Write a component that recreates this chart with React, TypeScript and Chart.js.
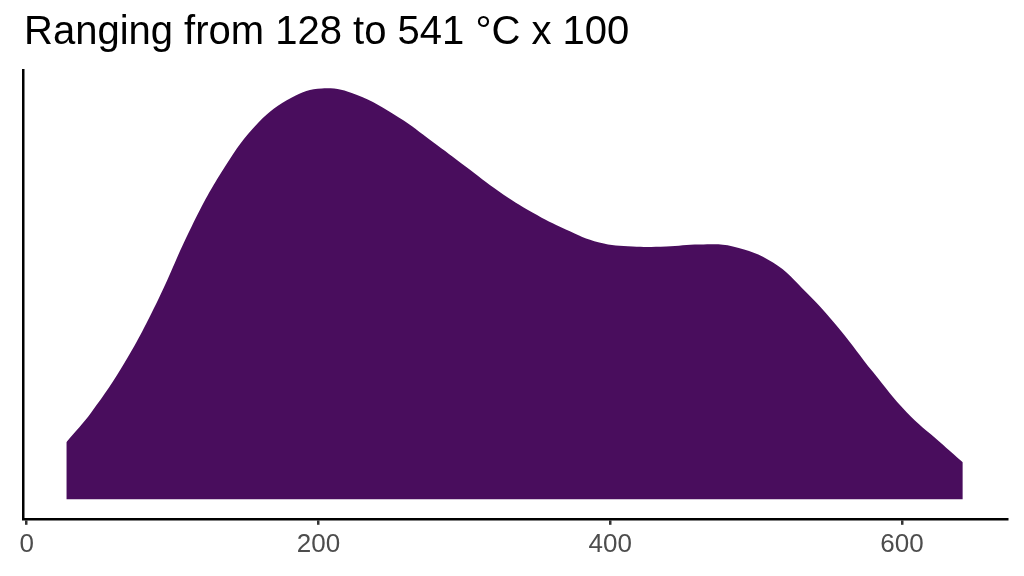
import { useRef, useEffect } from "react";
import { Chart, registerables } from "chart.js";

Chart.register(...registerables);

// temperature (°C x 100) and estimated density height
const temps = [
  27.2, 44.4, 67.3, 90.2, 113.1, 136.0, 158.9, 181.8, 202.4, 225.6, 255.1,
  278.0, 300.9, 323.8, 346.7, 369.6, 392.5, 415.4, 438.3, 461.2, 484.1, 511.6,
  534.5, 557.4, 580.3, 603.2, 626.1, 641.7,
];
const density = [
  57, 87, 137, 200, 273, 333, 377, 402, 411, 405, 382,
  358, 333, 308, 287, 270, 257, 253, 253, 255, 253, 237,
  207, 170, 127, 87, 57, 37,
];
const xTicks = [0, 200, 400, 600];
const title = "Ranging from 128 to 541 °C x 100";

const fill = "#490D5D";
const font = "'Liberation Sans', Arial, sans-serif";

const App = () => {
  const canvasRef = useRef<HTMLCanvasElement | null>(null);
  const chartRef = useRef<any>(null);

  useEffect(() => {
    if (!canvasRef.current) return;
    if (chartRef.current) chartRef.current.destroy();

    const ctx = canvasRef.current.getContext("2d");
    if (!ctx) return;

    chartRef.current = new Chart(ctx, {
      type: "line",
      data: {
        datasets: [
          {
            data: temps.map((t, i) => ({ x: t, y: density[i] })),
            backgroundColor: fill,
            borderWidth: 0,
            pointRadius: 0,
            fill: "origin",
            tension: 0.4,
          },
        ],
      },
      options: {
        responsive: true,
        maintainAspectRatio: false,
        animation: false,
        layout: {
          padding: { left: 15, right: 17, top: 70, bottom: 12 },
        },
        plugins: {
          legend: { display: false },
          tooltip: { enabled: false },
        },
        scales: {
          x: {
            type: "linear",
            min: -2.5,
            max: 672,
            afterBuildTicks: (scale: any) => {
              scale.ticks = xTicks.map((v) => ({ value: v }));
            },
            ticks: {
              color: "#4D4D4D",
              padding: 4,
              maxRotation: 0,
              font: { family: font, size: 26, lineHeight: 1.2 },
            },
            grid: {
              display: true,
              drawOnChartArea: false,
              drawTicks: true,
              tickLength: 6,
              color: "#333333",
              lineWidth: 2.5,
            },
            border: { display: true, color: "#000", width: 2.5 },
          },
          y: {
            min: -19.5,
            max: 429.5,
            ticks: { display: false },
            grid: { display: false },
            border: { display: true, color: "#000", width: 2.5 },
          },
        },
      },
    });

    return () => chartRef.current?.destroy();
  }, []);

  return (
    <div
      style={{
        position: "fixed",
        left: 0,
        top: 0,
        width: 1024,
        height: 576,
        background: "#fff",
      }}
    >
      {/* Title */}
      <div
        style={{
          position: "absolute",
          left: 24,
          top: 10,
          fontFamily: font,
          fontSize: 40,
          lineHeight: "40px",
          color: "#000",
          whiteSpace: "nowrap",
        }}
      >
        {title}
      </div>

      {/* Chart */}
      <canvas ref={canvasRef}></canvas>
    </div>
  );
};

export default App;
